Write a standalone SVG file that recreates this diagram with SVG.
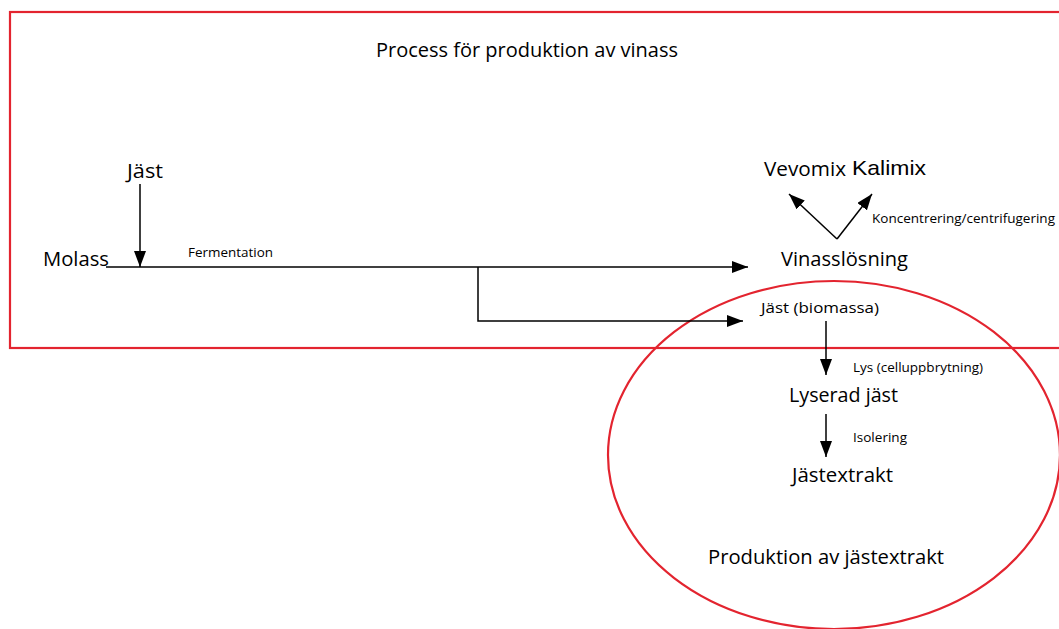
<svg xmlns="http://www.w3.org/2000/svg" width="1059" height="629" viewBox="0 0 1059 629">
<style>
.t{font-family:"Open Sans","Liberation Sans",sans-serif;fill:#000}
.l{font-size:20px}
.s{font-size:13px}
.m{font-size:15px}
.c{stroke:#000;stroke-width:1.5;fill:none}
.red{stroke:#e3242f;stroke-width:2.2;fill:none}
</style>
<defs>
<marker id="ah" viewBox="0 0 16 12" refX="16" refY="6" markerWidth="16" markerHeight="12" markerUnits="userSpaceOnUse" orient="auto">
<path d="M0,0 L16,6 L0,12 Z" fill="#000"/>
</marker>
</defs>
<g id="vinass-process">
<rect class="red" x="10" y="12" width="1070" height="336"/>
<text class="t l" x="376" y="57" textLength="302" lengthAdjust="spacingAndGlyphs">Process för produktion av vinass</text>
</g>
<g id="jastextrakt-production">
<ellipse class="red" cx="834" cy="455" rx="226" ry="174"/>
<text class="t l" x="708" y="564" textLength="236" lengthAdjust="spacingAndGlyphs">Produktion av jästextrakt</text>
</g>
<g id="jast"><text class="t l" x="127" y="178" textLength="36" lengthAdjust="spacingAndGlyphs">Jäst</text></g>
<g id="molass"><text class="t l" x="43" y="266" textLength="66" lengthAdjust="spacingAndGlyphs">Molass</text></g>
<g id="vinasslosning"><text class="t l" x="781" y="266" textLength="127" lengthAdjust="spacingAndGlyphs">Vinasslösning</text></g>
<g id="vevomix"><text class="t l" x="764" y="176" textLength="82" lengthAdjust="spacingAndGlyphs">Vevomix</text></g>
<g id="kalimix"><text font-family="Liberation Sans, Arial, sans-serif" font-size="21" x="852" y="175" textLength="74" lengthAdjust="spacingAndGlyphs">Kalimix</text></g>
<g id="jast-biomassa"><text class="t m" x="761" y="313" textLength="118" lengthAdjust="spacingAndGlyphs">Jäst (biomassa)</text></g>
<g id="lyserad-jast"><text class="t l" x="789" y="402" textLength="109" lengthAdjust="spacingAndGlyphs">Lyserad jäst</text></g>
<g id="jastextrakt"><text class="t l" x="792" y="482" textLength="101" lengthAdjust="spacingAndGlyphs">Jästextrakt</text></g>
<g id="connectors">
<path class="c" d="M106,267 H748" marker-end="url(#ah)"/>
<path class="c" d="M140,184 V267" marker-end="url(#ah)"/>
<path class="c" d="M478,267 V321 H743" marker-end="url(#ah)"/>
<path class="c" d="M837,239 L789,194" marker-end="url(#ah)"/>
<path class="c" d="M837,239 L872,194" marker-end="url(#ah)"/>
<path class="c" d="M826,321 V375" marker-end="url(#ah)"/>
<path class="c" d="M826,414 V457" marker-end="url(#ah)"/>
<text class="t s" x="188" y="257" textLength="85" lengthAdjust="spacingAndGlyphs">Fermentation</text>
<text class="t s" x="872" y="223" textLength="183" lengthAdjust="spacingAndGlyphs">Koncentrering/centrifugering</text>
<text class="t s" x="853" y="372" textLength="130" lengthAdjust="spacingAndGlyphs">Lys (celluppbrytning)</text>
<text class="t s" x="853" y="442" textLength="54" lengthAdjust="spacingAndGlyphs">Isolering</text>
</g>
</svg>
